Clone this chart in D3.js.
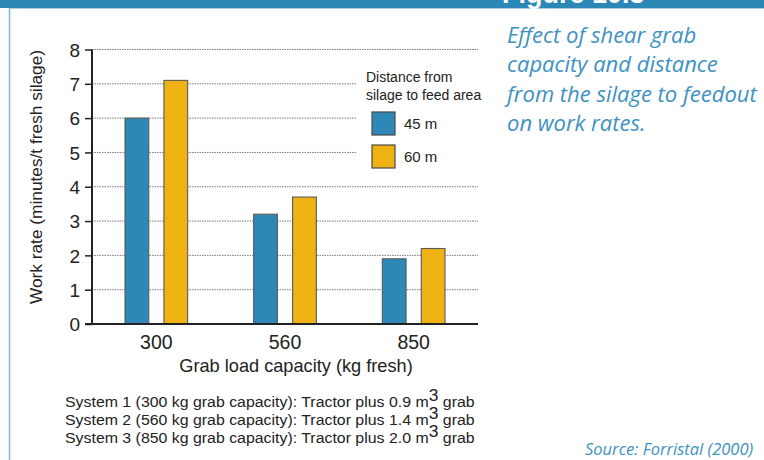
<!DOCTYPE html>
<html><head><meta charset="utf-8">
<script src="https://cdn.jsdelivr.net/npm/d3@7"></script>
<style>
html,body{margin:0;padding:0;background:#fff;}
svg{display:block;}
</style></head>
<body>
<svg id="chart" width="764" height="460"></svg>
<script>
const categories = ["300", "560", "850"];
const seriesNames = ["45 m", "60 m"];
const values45 = [6.0, 3.2, 1.9];
const values60 = [7.1, 3.7, 2.2];
const yTicks = [0, 1, 2, 3, 4, 5, 6, 7, 8];
const colors = ["#2d88b7", "#eeb213"];
const titleLines = ["Effect of shear grab", "capacity and distance", "from the silage to feedout", "on work rates."];
const footLines = [
  ["System 1 (300 kg grab capacity): Tractor plus 0.9 m", "3", " grab"],
  ["System 2 (560 kg grab capacity): Tractor plus 1.4 m", "3", " grab"],
  ["System 3 (850 kg grab capacity): Tractor plus 2.0 m", "3", " grab"]
];

const svg = d3.select("#chart");
const FONT = "'Liberation Sans', Arial, sans-serif";
const TFONT = "'Open Sans', 'Noto Sans', sans-serif";
const blue = "#3d92c2";

// header band
svg.append("rect").attr("x",0).attr("y",0).attr("width",764).attr("height",8).attr("fill","#2d87b6");
svg.append("line").attr("x1",9).attr("x2",764).attr("y1",8.5).attr("y2",8.5).attr("stroke","#a9cfe4").attr("stroke-width",1);
svg.append("text").attr("x",502).attr("y",3).attr("fill","#fff").attr("font-family",FONT).attr("font-weight","bold").attr("font-size",27).text("Figure 10.3");
// left border
svg.append("line").attr("x1",9.5).attr("x2",9.5).attr("y1",8).attr("y2",460).attr("stroke","#7fb6d6").attr("stroke-width",1.5);

const x0 = d3.scaleBand().domain(categories).range([92, 478]).paddingInner(0).paddingOuter(0);
const x1 = d3.scaleBand().domain(seriesNames).range([33, x0.bandwidth()-33]).paddingInner(0.39).paddingOuter(0);
const y = d3.scaleLinear().domain([0, 8]).range([324, 49.5]);

// gridlines
svg.append("g").selectAll("line").data(yTicks.filter(d=>d>0)).join("line")
  .attr("x1",92).attr("x2",478).attr("y1",d=>y(d)).attr("y2",d=>y(d))
  .attr("stroke","#7a7a7a").attr("stroke-width",1).attr("stroke-dasharray","1.5,1");

// legend background
svg.append("rect").attr("x",357).attr("y",60).attr("width",125).attr("height",118).attr("fill","#fff");

// bars
const groups = svg.append("g").selectAll("g").data(categories).join("g")
  .attr("transform", d=>`translate(${x0(d)},0)`);
groups.selectAll("rect").data((d,i)=>[{s:seriesNames[0],v:values45[i],c:colors[0]},{s:seriesNames[1],v:values60[i],c:colors[1]}])
  .join("rect")
  .attr("x",d=>x1(d.s)).attr("width",x1.bandwidth())
  .attr("y",d=>y(d.v)).attr("height",d=>y(0)-y(d.v))
  .attr("fill",d=>d.c).attr("stroke","#5a5a5a").attr("stroke-width",1.1);

// y axis
const yAxis = svg.append("g").attr("transform","translate(92,0)")
  .call(d3.axisLeft(y).tickValues(yTicks).tickSize(7).tickPadding(5).tickFormat(d3.format("d")));
yAxis.select(".domain").attr("stroke","#222").attr("stroke-width",2).attr("d","M0,"+y(8)+"V"+y(0));
yAxis.selectAll(".tick line").attr("stroke","#222").attr("stroke-width",1.5);
yAxis.selectAll(".tick text").attr("font-family",FONT).attr("font-size",19).attr("fill","#222").attr("dy","0.36em");

// x axis
const xAxis = svg.append("g").attr("transform","translate(0,324)")
  .call(d3.axisBottom(x0).tickSize(0).tickPadding(11));
xAxis.select(".domain").attr("stroke","#222").attr("stroke-width",2).attr("d","M85,0H478");
xAxis.selectAll(".tick text").attr("font-family",FONT).attr("font-size",19.5).attr("fill","#222").attr("dy","0.71em");

// axis titles
svg.append("text").attr("x",296).attr("y",372).attr("text-anchor","middle")
  .attr("font-family",FONT).attr("font-size",18.2).attr("fill","#222").text("Grab load capacity (kg fresh)");
svg.append("text").attr("transform","translate(42,177) rotate(-90)").attr("text-anchor","middle")
  .attr("font-family",FONT).attr("font-size",17.3).attr("fill","#222").text("Work rate (minutes/t fresh silage)");

// legend
const lg = svg.append("g");
lg.append("text").attr("x",366).attr("y",82).attr("font-family",FONT).attr("font-size",14).attr("fill","#222").text("Distance from");
lg.append("text").attr("x",366).attr("y",100).attr("font-family",FONT).attr("font-size",14).attr("fill","#222").text("silage to feed area");
seriesNames.forEach((s,i)=>{
  lg.append("rect").attr("x",372).attr("y",112+i*33).attr("width",23).attr("height",23)
    .attr("fill",colors[i]).attr("stroke","#4a4a4a").attr("stroke-width",1.2);
  lg.append("text").attr("x",404).attr("y",129+i*33).attr("font-family",FONT).attr("font-size",15).attr("fill","#222").text(s);
});

// title
const tt = svg.append("text").attr("font-family",TFONT).attr("font-style","italic").attr("font-size",22).attr("fill",blue);
titleLines.forEach((l,i)=>{
  tt.append("tspan").attr("x",507).attr("y",43+i*29.3).text(l);
});

// footnotes
footLines.forEach((f,i)=>{
  const t = svg.append("text").attr("transform",`translate(65,${407+i*18}) scale(1.06,1)`).attr("font-family",FONT).attr("font-size",15).attr("fill","#222");
  t.append("tspan").text(f[0]);
  t.append("tspan").attr("dy",-6).attr("font-size",16.5).text(f[1]);
  t.append("tspan").attr("dy",6).text(f[2]);
});

// source
svg.append("text").attr("x",585).attr("y",455).attr("font-family",TFONT).attr("font-style","italic").attr("font-size",16.5).attr("fill",blue).text("Source: Forristal (2000)");
</script>
</body></html>
